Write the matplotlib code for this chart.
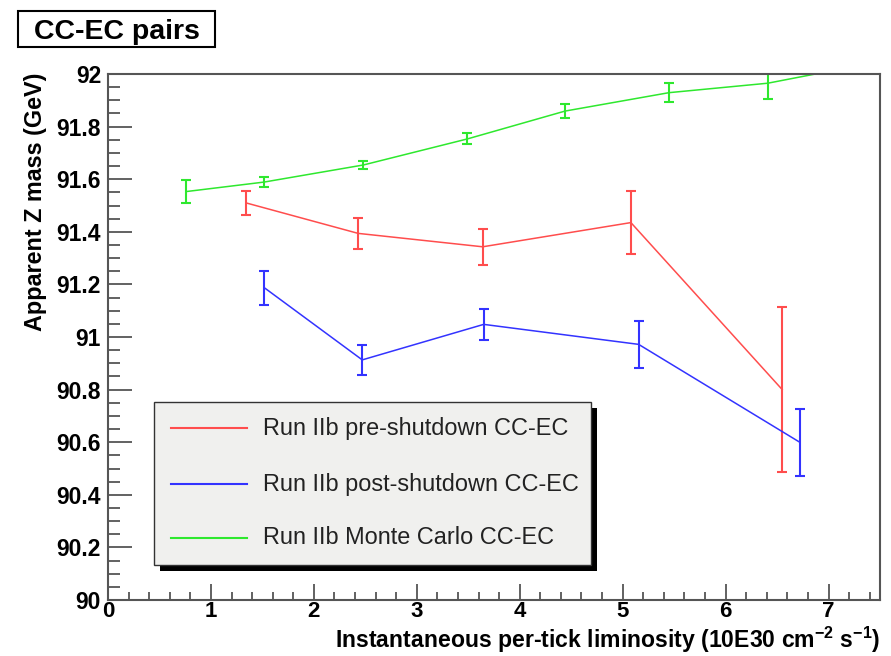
import matplotlib
matplotlib.use("Agg")
import matplotlib.pyplot as plt
from matplotlib.patches import Rectangle
from matplotlib.lines import Line2D
from matplotlib.ticker import MultipleLocator, FormatStrFormatter

plt.rcParams['font.family'] = ['Liberation Sans', 'DejaVu Sans']
plt.rcParams['mathtext.fontset'] = 'custom'
plt.rcParams['mathtext.rm'] = 'Liberation Sans'
plt.rcParams['mathtext.bf'] = 'Liberation Sans:bold'

# data
pre_x = [1.34, 2.43, 3.64, 5.08, 6.55]
pre_y = [91.51, 91.394, 91.343, 91.435, 90.80]
pre_err = [0.047, 0.06, 0.068, 0.12, 0.315]

post_x = [1.52, 2.47, 3.65, 5.155, 6.72]
post_y = [91.187, 90.913, 91.048, 90.972, 90.600]
post_err = [0.064, 0.058, 0.06, 0.089, 0.128]

# last MC point lies above the frame, only its line segment shows
mc_x = [0.76, 1.515, 2.48, 3.49, 4.44, 5.45, 6.41, 7.4]
mc_y = [91.553, 91.589, 91.654, 91.753, 91.859, 91.929, 91.965, 92.04]
mc_err = [0.045, 0.018, 0.015, 0.021, 0.027, 0.037, 0.06, 0.0]

labels = ["Run IIb pre-shutdown CC-EC",
          "Run IIb post-shutdown CC-EC",
          "Run IIb Monte Carlo CC-EC"]
colors = ["#ff4d4d", "#3333ff", "#2ee82e"]

W, H = 891, 656
fig = plt.figure(figsize=(W / 100, H / 100), dpi=100)
ax = fig.add_axes([108 / W, 1 - 600 / H, (880 - 108) / W, (600 - 74) / H])

series = [(pre_x, pre_y, pre_err), (post_x, post_y, post_err), (mc_x, mc_y, mc_err)]
for (x, y, e), c in zip(series, colors):
    ax.errorbar(x, y, yerr=e, color=c, lw=1.1, elinewidth=1.5,
                capsize=3.5, capthick=1.5)

ax.set_xlim(0, 7.5)
ax.set_ylim(90, 92)
ax.xaxis.set_major_locator(MultipleLocator(1))
ax.xaxis.set_minor_locator(MultipleLocator(0.2))
ax.yaxis.set_major_locator(MultipleLocator(0.2))
ax.yaxis.set_minor_locator(MultipleLocator(0.05))
ax.yaxis.set_major_formatter(FormatStrFormatter('%g'))

frame = "#555555"
for s in ax.spines.values():
    s.set_color(frame)
    s.set_linewidth(1.5)
ax.tick_params(axis='both', which='both', direction='in', colors=frame,
               labelcolor='black', width=1.3)
ax.tick_params(axis='x', which='major', length=11.5, pad=1)
ax.tick_params(axis='x', which='minor', length=5.8)
ax.tick_params(axis='y', which='major', length=17.3, pad=5)
ax.tick_params(axis='y', which='minor', length=8.6)
for lab in ax.get_yticklabels():
    lab.set_fontsize(16.5)
    lab.set_fontweight('bold')
for lab in ax.get_xticklabels():
    lab.set_fontsize(16)
    lab.set_fontweight('bold')

# axis titles
fig.text(880 / W, 1 - 648 / H,
         r"Instantaneous per-tick liminosity (10E30 cm$^{\mathbf{-2}}$ s$^{\mathbf{-1}}$)",
         ha='right', va='baseline', fontsize=16.6, fontweight='bold')
fig.text(36 / W, 1 - 73 / H, "Apparent Z mass (GeV)", rotation=90,
         ha='center', va='top', fontsize=16.8, fontweight='bold')

# title box
fig.patches.append(Rectangle((18 / W, 1 - 47 / H), 197 / W, 36 / H,
                             transform=fig.transFigure, fill=False,
                             edgecolor='black', lw=1.5))
fig.text(116.5 / W, 1 - 32 / H, "CC-EC pairs", ha='center', va='center',
         fontsize=20.5, fontweight='bold')

# legend with drop shadow
lx0, ly0, lx1, ly1 = 154, 402, 591, 565
fig.patches.append(Rectangle(((lx0 + 6) / W, 1 - (ly1 + 6) / H),
                             (lx1 - lx0) / W, (ly1 - ly0) / H,
                             transform=fig.transFigure, facecolor='black',
                             edgecolor='none', zorder=5))
fig.patches.append(Rectangle((lx0 / W, 1 - ly1 / H),
                             (lx1 - lx0) / W, (ly1 - ly0) / H,
                             transform=fig.transFigure, facecolor='#f0f0ee',
                             edgecolor='#333333', lw=1, zorder=6))
rows = [428, 484, 538]
for ry, lab, c in zip(rows, labels, colors):
    fig.lines.append(Line2D([171 / W, 247 / W], [1 - ry / H, 1 - ry / H],
                            transform=fig.transFigure, color=c, lw=1.5,
                            zorder=7))
    fig.text(263 / W, 1 - ry / H, lab, ha='left', va='center',
             fontsize=16.9, color='#222222', zorder=8)

fig.savefig("out.png", dpi=100)
